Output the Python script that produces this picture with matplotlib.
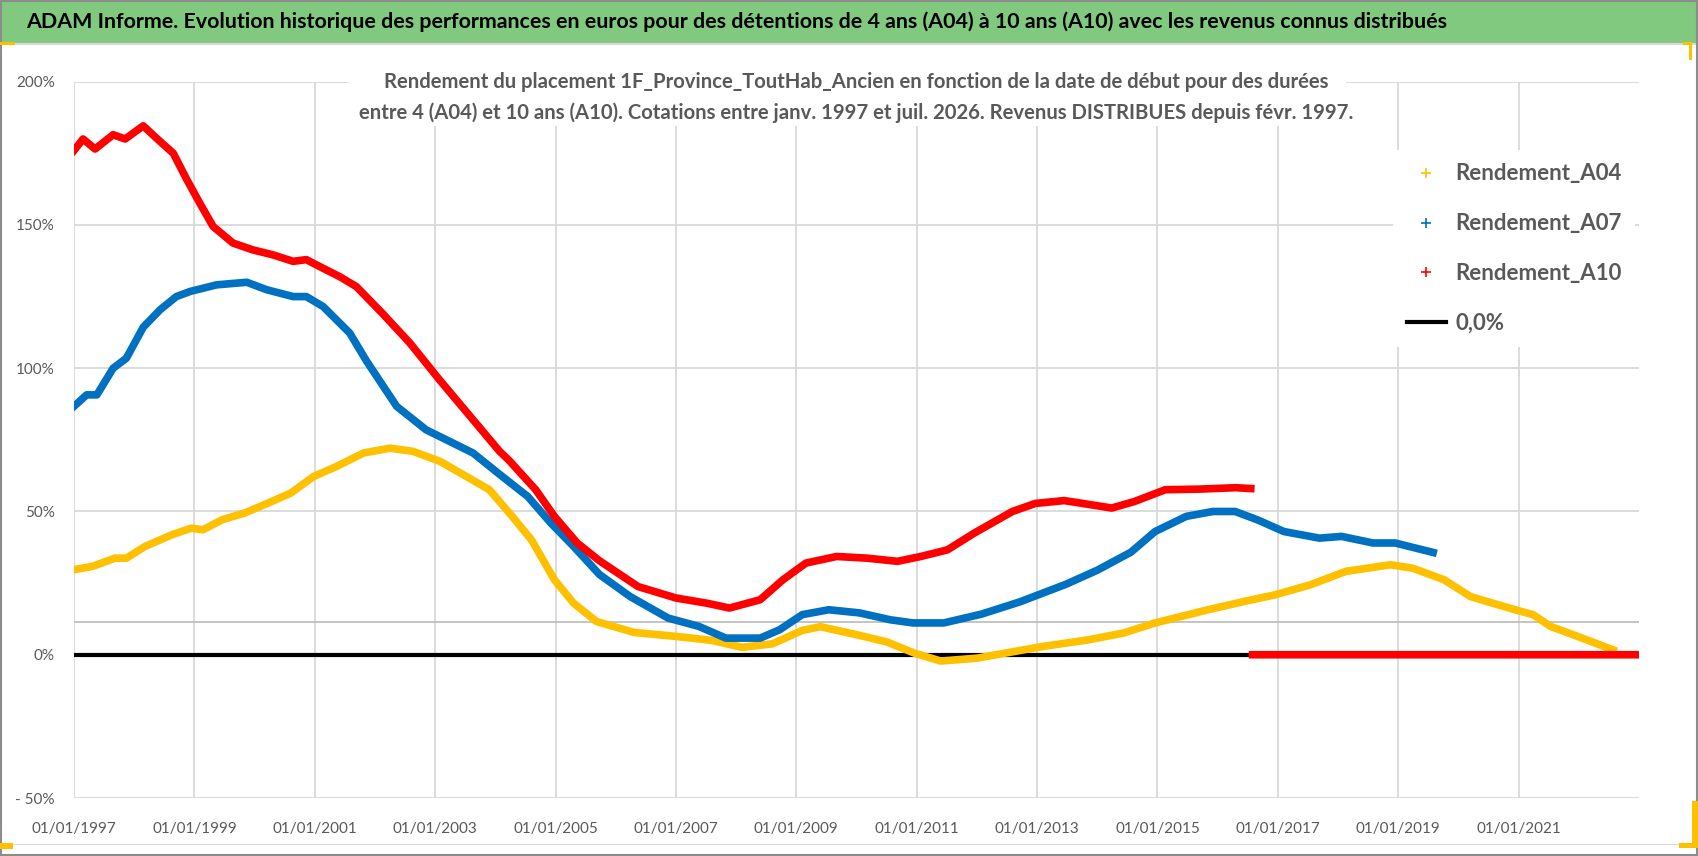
import numpy as np
import matplotlib
matplotlib.use("Agg")
import matplotlib.pyplot as plt
from matplotlib.lines import Line2D
from matplotlib.patches import Rectangle

plt.rcParams['font.family'] = ['Lato', 'DejaVu Sans']

# dates en années décimales, rendements en %
a04_x = [1997.0, 1997.3, 1997.68, 1997.87, 1998.18, 1998.63, 1998.95, 1999.14, 1999.46, 1999.84,
         2000.22, 2000.6, 2000.98, 2001.36, 2001.81, 2002.25, 2002.63, 2003.08, 2003.52, 2003.9,
         2004.28, 2004.6, 2004.98, 2005.3, 2005.68, 2006.3, 2007.0, 2007.6, 2008.1, 2008.6,
         2009.1, 2009.4, 2010.0, 2010.5, 2010.97, 2011.4, 2012.0, 2012.4, 2013.1, 2013.85,
         2014.44, 2014.96, 2015.84, 2016.44, 2016.95, 2017.54, 2018.13, 2018.87, 2019.24, 2019.76,
         2020.2, 2020.94, 2021.24, 2021.53, 2021.98, 2022.57]
a04_y = [29.7, 30.8, 33.7, 33.7, 37.8, 41.9, 44.2, 43.6, 47.1, 49.5,
         52.9, 56.4, 62.2, 65.7, 70.4, 72.1, 71.0, 67.5, 62.2, 57.6,
         48.3, 40.1, 26.2, 18.0, 11.6, 7.8, 6.4, 5.0, 2.6, 3.8,
         8.5, 9.8, 7.0, 4.5, 0.5, -2.2, -1.2, 0.3, 2.9, 5.2,
         7.6, 11.1, 15.7, 18.6, 20.9, 24.4, 29.1, 31.4, 30.2, 26.2,
         20.3, 15.7, 14.0, 9.9, 6.4, 1.7]

a07_x = [1997.0, 1997.21, 1997.38, 1997.65, 1997.87, 1998.15, 1998.43, 1998.7, 1998.93, 1999.37,
         1999.87, 2000.2, 2000.64, 2000.86, 2001.14, 2001.58, 2001.86, 2002.36, 2002.85, 2003.13,
         2003.63, 2004.08, 2004.54, 2004.92, 2005.3, 2005.73, 2006.24, 2006.87, 2007.38, 2007.83,
         2008.4, 2008.72, 2009.1, 2009.54, 2010.05, 2010.56, 2010.94, 2011.45, 2012.08, 2012.72,
         2013.48, 2014.0, 2014.56, 2014.96, 2015.48, 2015.92, 2016.29, 2016.66, 2017.1, 2017.69,
         2018.06, 2018.58, 2018.95, 2019.58]
a07_y = [86.7, 90.7, 90.7, 100.0, 103.5, 114.3, 120.4, 125.0, 126.8, 129.1,
         130.0, 127.4, 125.0, 125.0, 121.5, 112.3, 102.5, 86.7, 78.5, 75.6,
         70.4, 62.8, 55.2, 46.0, 37.8, 28.0, 20.3, 12.8, 9.9, 5.8,
         5.8, 8.7, 14.0, 15.7, 14.6, 12.2, 11.1, 11.1, 14.2, 18.5,
         24.6, 29.5, 35.8, 43.0, 48.3, 50.0, 50.0, 47.1, 43.0, 40.7,
         41.3, 39.0, 39.0, 35.7]

a10_x = [1997.0, 1997.15, 1997.35, 1997.65, 1997.85, 1998.15, 1998.37, 1998.65, 1998.87, 1999.09,
         1999.31, 1999.64, 1999.97, 2000.3, 2000.64, 2000.86, 2001.08, 2001.41, 2001.69, 2002.13,
         2002.58, 2003.07, 2003.63, 2004.07, 2004.22, 2004.67, 2004.98, 2005.36, 2005.73, 2006.37,
         2007.0, 2007.51, 2007.89, 2008.4, 2008.78, 2009.16, 2009.67, 2010.18, 2010.68, 2011.07,
         2011.51, 2011.96, 2012.59, 2012.97, 2013.45, 2013.73, 2014.24, 2014.62, 2015.13, 2015.69,
         2016.3, 2016.55, 2016.56, 2016.58, 2023.0]
a10_y = [176.0, 180.0, 176.5, 181.5, 180.0, 184.6, 180.3, 175.0, 166.0, 157.6,
         149.5, 143.7, 141.3, 139.6, 137.3, 137.9, 135.5, 132.0, 128.5, 119.0,
         108.8, 96.0, 82.0, 71.0, 68.0, 57.6, 48.3, 39.0, 32.8, 23.8,
         19.8, 18.0, 16.3, 19.2, 26.2, 32.0, 34.3, 33.7, 32.6, 34.3,
         36.6, 42.5, 50.0, 52.8, 53.8, 52.9, 51.2, 53.5, 57.6, 57.8,
         58.3, 58.0, np.nan, 0.0, 0.0]

zero_x = [1997.0, 2023.0]
zero_y = [0.0, 0.0]

axis_cross = 11.5   # ligne d'axe horizontal d'Excel

x_ticks = list(range(1997, 2022, 2))
x_labels = ["01/01/%d" % a for a in x_ticks]
y_ticks = [-50, 0, 50, 100, 150, 200]
y_labels = ["- 50%", "0%", "50%", "100%", "150%", "200%"]

series_names = ["Rendement_A04", "Rendement_A07", "Rendement_A10"]
colors = ["#FFC000", "#0070C0", "#FF0000"]
grey_txt = "#595959"

fig = plt.figure(figsize=(16.98, 8.56), dpi=100)

# bandeau titre
fig.patches.append(Rectangle((0.001, 1 - 43 / 856), 0.998, 41 / 856, transform=fig.transFigure,
                             facecolor="#80C97F", edgecolor="none", zorder=0))
fig.text(26 / 1698, 1 - 22 / 856,
         "ADAM Informe. Evolution historique des performances en euros pour des détentions de 4 ans (A04) à 10 ans (A10) avec les revenus connus distribués",
         fontsize=15.4, fontweight="bold", color="black", va="center", ha="left")
fig.patches.append(Rectangle((0.0, 1 - 45 / 856), 1.0, 2 / 856, transform=fig.transFigure,
                             facecolor="#D9D9D9", edgecolor="none"))
# cadre
fig.patches.append(Rectangle((0.0005, 0.0015), 0.999, 0.997, transform=fig.transFigure,
                             facecolor="none", edgecolor="#8C8C8C", lw=1.5))
fig.patches.append(Rectangle((0.0, 1 - 845 / 856), 1.0, 1.5 / 856, transform=fig.transFigure,
                             facecolor="#D9D9D9", edgecolor="none"))
# petites poignées jaunes
for (x0, y0, w, h) in [(0, 42, 15, 3), (0, 843, 13, 6), (1692, 801, 6, 47), (1679, 843, 19, 5),
                       (1683, 42, 9, 3), (1689, 42, 3, 18)]:
    fig.patches.append(Rectangle((x0 / 1698, 1 - (y0 + h) / 856), w / 1698, h / 856,
                                 transform=fig.transFigure, facecolor="#FFC000", edgecolor="none"))

ax = fig.add_axes([74 / 1698, 1 - 798 / 856, (1639 - 74) / 1698, (798 - 81.7) / 856])
ax.set_xlim(1997, 2023)
ax.set_ylim(-50, 200)
for s in ax.spines.values():
    s.set_visible(False)

ax.set_xticks(x_ticks)
ax.set_xticklabels(x_labels)
ax.set_yticks(y_ticks)
ax.set_yticklabels(y_labels)
ax.tick_params(length=0, colors=grey_txt, labelsize=11)
ax.tick_params(axis="x", pad=17)
ax.tick_params(axis="y", pad=14)
ax.grid(True, color="#D9D9D9", lw=1.3, zorder=0)
ax.set_axisbelow(True)
ax.axhline(axis_cross, color="#BFBFBF", lw=1.3, zorder=1)

ax.plot(zero_x, zero_y, color="black", lw=3, zorder=2)
ax.plot(a04_x, a04_y, color=colors[0], lw=5.5, zorder=3)
ax.plot(a07_x, a07_y, color=colors[1], lw=5.5, zorder=4)
ax.plot(a10_x, a10_y, color=colors[2], lw=5.5, zorder=5)

# sous-titre
fig.patches.append(Rectangle((349 / 1698, 1 - 126 / 856), (1346 - 349) / 1698, 58 / 856,
                             transform=fig.transFigure, facecolor="white", edgecolor="none", zorder=5))
fig.text(0.5045, 1 - 82 / 856,
         "Rendement du placement 1F_Province_ToutHab_Ancien en fonction de la date de début pour des durées",
         fontsize=14.6, fontweight="bold", color=grey_txt, ha="center", va="center", zorder=6)
fig.text(0.5045, 1 - 113 / 856,
         "entre 4 (A04) et 10 ans (A10). Cotations entre janv. 1997 et juil. 2026. Revenus DISTRIBUES depuis févr. 1997.",
         fontsize=14.6, fontweight="bold", color=grey_txt, ha="center", va="center", zorder=6)

handles = [Line2D([], [], color=c, marker="+", ls="none", ms=7, mew=1.2) for c in colors]
handles.append(Line2D([], [], color="black", lw=3))
leg = ax.legend(handles, series_names + ["0,0%"], loc="upper left",
                bbox_to_anchor=(0.836, 0.92), frameon=True, fontsize=16,
                labelspacing=1.3, handlelength=1.75, handletextpad=0.45, borderpad=0.6)
leg.get_frame().set_facecolor("white")
leg.get_frame().set_edgecolor("none")
leg.get_frame().set_alpha(1)
for t in leg.get_texts():
    t.set_color(grey_txt)
    t.set_fontweight("bold")

fig.savefig("out.png", dpi=100)
